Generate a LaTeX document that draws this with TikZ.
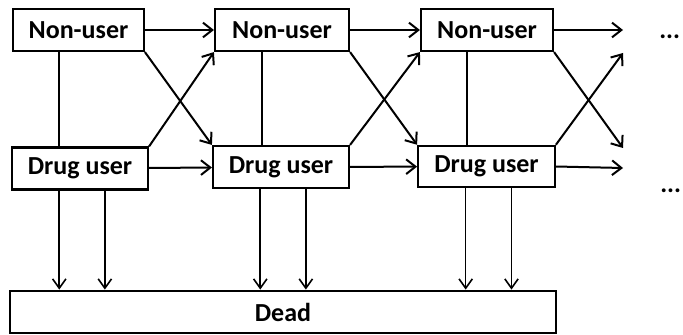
\documentclass[tikz,border=0pt]{standalone}
\usepackage{fontspec}
\setmainfont{Carlito}
\usetikzlibrary{arrows.meta, calc}
\tikzset{
  state/.style={draw, line width=1.6pt, inner sep=0pt, minimum height=31.5pt, font=\bfseries\fontsize{19.5}{22}\selectfont},
  trans/.style={-{Straight Barb[length=7pt,width=11pt]}, line width=1.5pt},
  death/.style={-{Straight Barb[length=7pt,width=10pt]}, line width=1.2pt},
  link/.style={line width=1.5pt},
  more/.style={anchor=base west, inner sep=0pt, font=\bfseries\fontsize{19.5}{22}\selectfont}
}

\begin{document}
\begin{tikzpicture}[x=0.75pt,y=-0.75pt]
\useasboundingbox (0,0) rectangle (683,335);
% states
\node[state, minimum width=98pt] (n1) at (78.5,30) {Non-user};
\node[state, minimum width=100.5pt] (n2) at (282,30) {Non-user};
\node[state, minimum width=99pt] (n3) at (487,30) {Non-user};
\node[state, minimum width=102pt] (d1) at (80,168.5) {Drug user};
\node[state, minimum width=102pt] (d2) at (281,167) {Drug user};
\node[state, minimum width=102.5pt, minimum height=31pt] (d3) at (486.5,166.5) {Drug user};
\node[state, minimum width=409pt, minimum height=32pt] (dead) at (283,312) {Dead};
% open ends
\coordinate (o1) at (623,30);
\coordinate (o2) at (623,168);
\coordinate (o3) at (623,148);
\coordinate (o4) at (623,53);
\node[more] (m1) at (659,39) {...};
\node[more] (m2) at (660,193) {...};
% staying
\draw[trans] (n1) -- (n2);
\draw[trans] (n2) -- (n3);
\draw[trans] (n3.east) -- (o1);
\draw[trans] (d1) -- (d2);
\draw[trans] (d2) -- (d3);
\draw[trans] (d3.east) -- (o2);
% switching
\draw[trans] (n1.south east) -- (d2.north west);
\draw[trans] (d1.north east) -- (n2.south west);
\draw[trans] (n2.south east) -- (d3.north west);
\draw[trans] (d2.north east) -- (n3.south west);
\draw[trans] (n3.south east) -- (o3);
\draw[trans] (d3.north east) -- (o4);
% links and deaths
\foreach \i in {1,2,3}{
  \coordinate (a\i) at ($(n\i.south west)!0.35!(n\i.south east)$);
  \draw[link] (a\i) -- (a\i |- d\i.north);
  \coordinate (b\i) at ($(d\i.south west)!0.35!(d\i.south east)$);
  \coordinate (c\i) at ($(d\i.south west)!0.68!(d\i.south east)$);
  \draw[death] (b\i) -- (b\i |- dead.north);
  \draw[death] (c\i) -- (c\i |- dead.north);
}
\end{tikzpicture}
\end{document}
